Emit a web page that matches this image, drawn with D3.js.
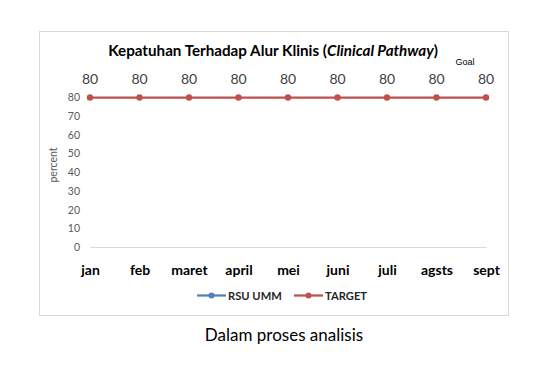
<!DOCTYPE html>
<html><head><meta charset="utf-8">
<script src="https://cdn.jsdelivr.net/npm/d3@7"></script>
<style>body{margin:0;background:#fff}svg{display:block}</style>
</head><body>
<svg id="c" width="560" height="370"></svg>
<script>
const months = ["jan","feb","maret","april","mei","juni","juli","agsts","sept"];
const rsuUmm = [null,null,null,null,null,null,null,null,null];
const target = [80,80,80,80,80,80,80,80,80];
const yTicks = [0,10,20,30,40,50,60,70,80];
const seriesNames = ["RSU UMM","TARGET"];
const colors = ["#4F81BD","#C0504D"];

const svg = d3.select("#c");
const font = "Lato, 'Open Sans', sans-serif";

svg.append("rect").attr("x",39.5).attr("y",31.5).attr("width",469).attr("height",284)
  .attr("fill","#fff").attr("stroke","#d9d9d9").attr("stroke-width",1);

const x = d3.scalePoint().domain(months).range([90,486]);
const y = d3.scaleLinear().domain([0,80]).range([247,97.5]);

// title
const t = svg.append("text").attr("x",273).attr("y",56).attr("text-anchor","middle")
  .attr("font-family",font).attr("font-size",15.2).attr("font-weight","bold").attr("fill","#000");
t.append("tspan").text("Kepatuhan Terhadap Alur Klinis (");
t.append("tspan").attr("font-style","italic").text("Clinical Pathway");
t.append("tspan").text(")");

svg.append("text").attr("x",465).attr("y",65).attr("text-anchor","middle")
  .attr("font-family","Liberation Sans, Arial, sans-serif").attr("font-size",9).attr("fill","#000").text("Goal");

// y axis
const ya = svg.append("g").attr("transform","translate(85,0)")
  .call(d3.axisLeft(y).tickValues(yTicks).tickSize(0).tickPadding(0));
ya.select(".domain").remove();
ya.selectAll("text").attr("font-family",font).attr("font-size",10.5).attr("fill","#595959").attr("x",-5);

svg.append("text").attr("transform","translate(57,165) rotate(-90)").attr("text-anchor","middle")
  .attr("font-family",font).attr("font-size",10.5).attr("fill","#595959").text("percent");

// x axis
const xa = svg.append("g").attr("transform","translate(0,247)")
  .call(d3.axisBottom(x).tickSize(0).tickPadding(18));
xa.select(".domain").attr("stroke","#d9d9d9").attr("d","M90.5,0.5H486.5");
xa.selectAll("text").attr("font-family",font).attr("font-size",14).attr("font-weight","bold").attr("fill","#000");

// series
const line = d3.line().defined(d=>d.v!=null).x(d=>x(d.m)).y(d=>y(d.v));
[rsuUmm,target].forEach((vals,i)=>{
  const data = months.map((m,j)=>({m,v:vals[j]}));
  svg.append("path").datum(data).attr("d",line).attr("fill","none")
    .attr("stroke",colors[i]).attr("stroke-width",2.25);
  svg.selectAll(null).data(data.filter(d=>d.v!=null)).enter().append("circle")
    .attr("cx",d=>x(d.m)).attr("cy",d=>y(d.v)).attr("r",3.2).attr("fill",colors[i]);
});
// data labels for target
svg.selectAll(null).data(months.map((m,j)=>({m,v:target[j]}))).enter().append("text")
  .attr("x",d=>x(d.m)).attr("y",84).attr("text-anchor","middle")
  .attr("font-family",font).attr("font-size",14).attr("fill","#404040").text(d=>d.v);

// legend
const leg = [{name:seriesNames[0],x0:197},{name:seriesNames[1],x0:294}];
leg.forEach((l,i)=>{
  svg.append("line").attr("x1",l.x0).attr("x2",l.x0+29).attr("y1",295.5).attr("y2",295.5)
    .attr("stroke",colors[i]).attr("stroke-width",2.25);
  svg.append("circle").attr("cx",l.x0+14.5).attr("cy",295.5).attr("r",3).attr("fill",colors[i]);
  svg.append("text").attr("x",l.x0+31).attr("y",299.5).attr("font-family",font)
    .attr("font-size",11.2).attr("font-weight","bold").attr("fill","#262626").text(l.name);
});

svg.append("text").attr("x",284).attr("y",341).attr("text-anchor","middle")
  .attr("font-family",font).attr("font-size",17).attr("fill","#000").text("Dalam proses analisis");
</script>
</body></html>
